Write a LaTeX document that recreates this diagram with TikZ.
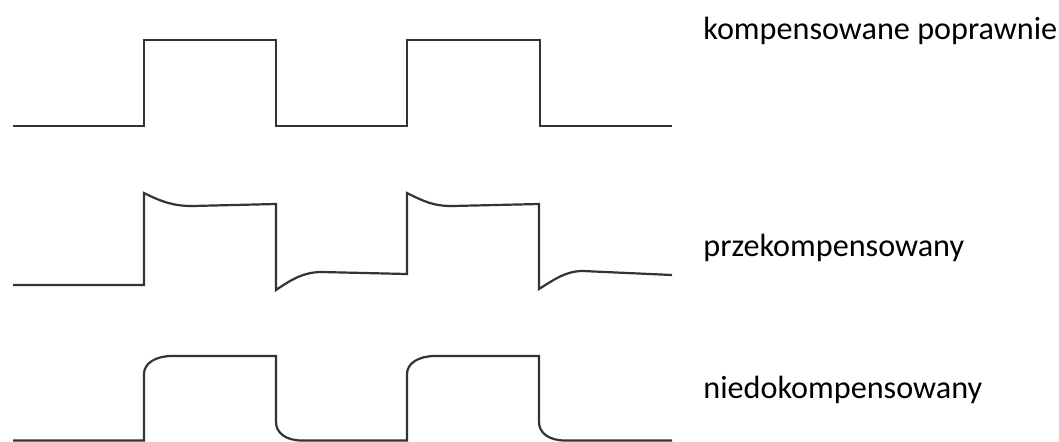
\documentclass[tikz,border=0pt]{standalone}
\usepackage{fontspec}
\setmainfont{Carlito}

\begin{document}
\begin{tikzpicture}[
  x=0.5pt,y=-0.5pt,
  wave/.style={draw=black!80,line width=1.1pt,line join=miter},
  caption/.style={anchor=base west,inner sep=0pt,font=\fontsize{16.1}{19}\selectfont}
]
  \useasboundingbox (0,0) rectangle (1059,441);

  % poprawnie
  \draw[wave] (13,126) -- (144,126) -- (144,40) -- (276,40) -- (276,126)
    -- (407,126) -- (407,40) -- (540,40) -- (540,126) -- (672,126);

  % przekompensowany
  \draw[wave] (13,285) -- (144,285) -- (144,193)
    .. controls (162,202) and (174,206) .. (192,206) -- (276,204) -- (276,290)
    .. controls (292,279) and (304,272) .. (322,272) -- (407,274) -- (407,193)
    .. controls (425,202) and (434,206) .. (452,206) -- (539,204) -- (539,289)
    .. controls (555,279) and (566,271) .. (583,271) -- (672,275);

  % niedokompensowany
  \draw[wave] (13,440.5) -- (144,440.5) -- (144,374)
    .. controls (144,363) and (156,356) .. (172,356) -- (276,356) -- (276,422)
    .. controls (276,433) and (286,440.5) .. (302,440.5) -- (407,440.5) -- (407,374)
    .. controls (407,363) and (419,356) .. (435,356) -- (539,356) -- (539,422)
    .. controls (539,433) and (549,440.5) .. (565,440.5) -- (672,440.5);

  \node[caption] (ok) at (703,39) {kompensowane poprawnie};
  \node[caption] (over) at (703,256) {przekompensowany};
  \node[caption] (under) at (703,398) {niedokompensowany};
\end{tikzpicture}
\end{document}
